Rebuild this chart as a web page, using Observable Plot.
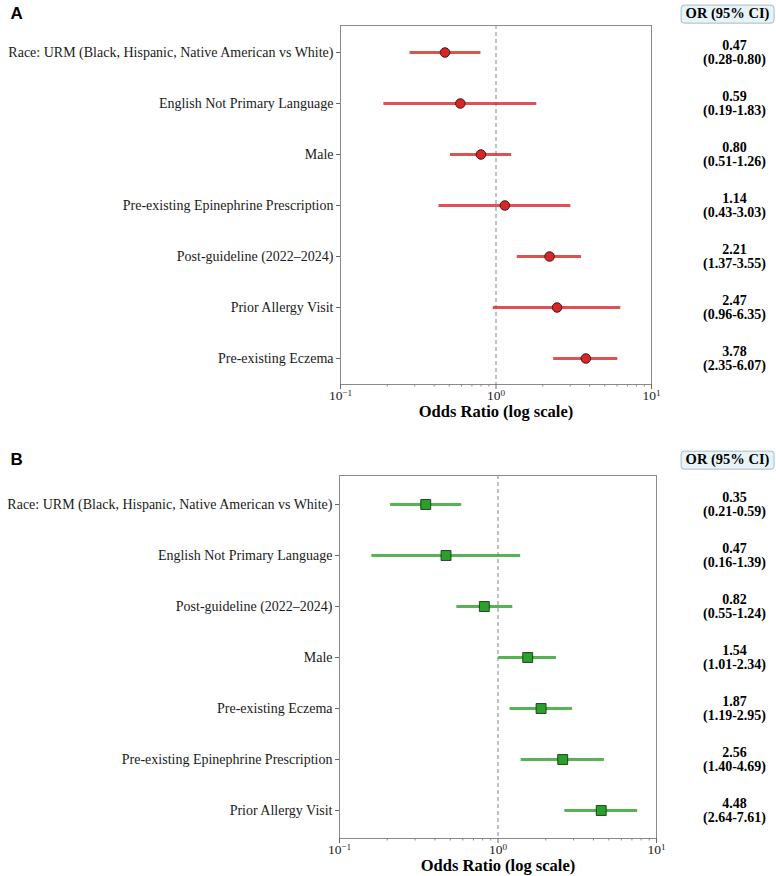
<!DOCTYPE html>
<html>
<head>
<meta charset="utf-8">
<script src="https://cdn.jsdelivr.net/npm/d3@7"></script>
<script src="https://cdn.jsdelivr.net/npm/@observablehq/plot@0.6"></script>
<style>
  html, body { margin: 0; padding: 0; background: #fff; }
  #chart svg { display: block; }
</style>
</head>
<body>
<div id="chart"></div>
<script>
// Panel A: odds ratios with 95% confidence intervals
const labelsA = [
  "Race: URM (Black, Hispanic, Native American vs White)",
  "English Not Primary Language",
  "Male",
  "Pre-existing Epinephrine Prescription",
  "Post-guideline (2022\u20132024)",
  "Prior Allergy Visit",
  "Pre-existing Eczema"
];
const orA = [0.47, 0.59, 0.80, 1.14, 2.21, 2.47, 3.78];
const loA = [0.28, 0.19, 0.51, 0.43, 1.37, 0.96, 2.35];
const hiA = [0.80, 1.83, 1.26, 3.03, 3.55, 6.35, 6.07];

// Panel B
const labelsB = [
  "Race: URM (Black, Hispanic, Native American vs White)",
  "English Not Primary Language",
  "Post-guideline (2022\u20132024)",
  "Male",
  "Pre-existing Eczema",
  "Pre-existing Epinephrine Prescription",
  "Prior Allergy Visit"
];
const orB = [0.35, 0.47, 0.82, 1.54, 1.87, 2.56, 4.48];
const loB = [0.21, 0.16, 0.55, 1.01, 1.19, 1.40, 2.64];
const hiB = [0.59, 1.39, 1.24, 2.34, 2.95, 4.69, 7.61];

const majorTicks = [0.1, 1, 10];
const minorTicks = [2, 3, 4, 5, 6, 7, 8, 9].flatMap(k => [k / 10, k]);

const serif = "'Liberation Serif', 'Times New Roman', serif";
const sans = "'Liberation Sans', Arial, sans-serif";
const fmt = d3.format(".2f");
const SVGNS = "http://www.w3.org/2000/svg";
const HEADER = "OR (95% CI)";
const VALUE_X = 734;  // centre of the estimate column
const HEADER_X = 727; // centre of the column header

function panel(o) {
  const rows = o.labels.map((label, i) => ({label, or: o.or[i], lo: o.lo[i], hi: o.hi[i]}));
  const frameRight = 776 - o.marginRight;
  const svg = Plot.plot({
    width: 776,
    height: o.height,
    marginTop: o.marginTop,
    marginBottom: o.marginBottom,
    marginLeft: o.marginLeft,
    marginRight: o.marginRight,
    style: {fontFamily: serif, background: "#fff", color: "#000", overflow: "visible"},
    x: {type: "log", domain: [0.1, 10]},
    y: {type: "point", domain: o.labels, padding: 0.5},
    marks: [
      Plot.frame({stroke: "#8a8a8a"}),
      Plot.ruleX([1], {stroke: "#9a9a9a", strokeDasharray: "4,3", strokeWidth: 1.2}),
      Plot.ruleY(rows, {y: "label", x1: "lo", x2: "hi", stroke: o.lineColor, strokeWidth: 3}),
      Plot.dot(rows, {x: "or", y: "label", symbol: o.symbol, r: o.r, fill: o.color, stroke: o.edge, strokeWidth: 0.9}),
      Plot.axisY({tickSize: 4, tickPadding: 3, fontSize: 14, label: null, stroke: "#666", fill: "#1a1a1a"}),
      Plot.axisX({ticks: majorTicks, tickSize: 5, tickPadding: 1, fontSize: 13.5, label: null, stroke: "#666", fill: "#1a1a1a",
        tickFormat: d => `10^${Math.round(Math.log10(d))}`}),
      Plot.axisX({ticks: minorTicks, tickSize: 2.5, tickFormat: () => "", label: null, stroke: "#888"}),
      Plot.text(["Odds Ratio (log scale)"], {frameAnchor: "bottom", dy: o.labelDy, lineAnchor: "middle",
        fontWeight: "bold", fontSize: 16.5}),
      Plot.text(rows, {y: "label", frameAnchor: "right", dx: VALUE_X - frameRight, textAnchor: "middle", lineAnchor: "middle",
        fontWeight: "bold", fontSize: 14, lineHeight: 1.0,
        text: d => `${fmt(d.or)}\n(${fmt(d.lo)}-${fmt(d.hi)})`}),
      Plot.text([HEADER], {frameAnchor: "top-right", dx: HEADER_X - frameRight, dy: o.headerDy, textAnchor: "middle",
        lineAnchor: "middle", fontWeight: "bold", fontSize: 14.5}),
      Plot.text([o.letter], {frameAnchor: "top-left", dx: 10 - o.marginLeft, dy: o.letterDy, textAnchor: "start",
        lineAnchor: "middle", fontFamily: sans, fontWeight: "bold", fontSize: 17})
    ]
  });
  document.getElementById("chart").appendChild(svg);

  // render exponents of the log ticks as superscripts
  svg.querySelectorAll('g[aria-label="x-axis tick label"] text').forEach(t => {
    const s = t.textContent;
    if (!s.includes("^")) return;
    const [base, exp] = s.split("^");
    t.textContent = "";
    const b = document.createElementNS(SVGNS, "tspan");
    b.textContent = base;
    const e = document.createElementNS(SVGNS, "tspan");
    e.textContent = exp.replace("-", "\u2212");
    e.setAttribute("dy", "-0.5em");
    e.setAttribute("font-size", "0.68em");
    t.appendChild(b);
    t.appendChild(e);
  });

  // rounded box behind the column header
  const head = Array.from(svg.querySelectorAll("text")).find(t => t.textContent === HEADER);
  if (head) {
    const bb = head.getBBox();
    const rect = document.createElementNS(SVGNS, "rect");
    rect.setAttribute("x", bb.x - 4.5);
    rect.setAttribute("y", bb.y);
    rect.setAttribute("width", bb.width + 9);
    rect.setAttribute("height", bb.height + 1);
    rect.setAttribute("rx", 3);
    rect.setAttribute("fill", "#e8f3f7");
    rect.setAttribute("stroke", "#a8bcc6");
    rect.setAttribute("stroke-width", 1);
    const tr = head.getAttribute("transform");
    if (tr) rect.setAttribute("transform", tr);
    head.parentNode.insertBefore(rect, head);
  }
}

panel({
  letter: "A", labels: labelsA, or: orA, lo: loA, hi: hiA,
  color: "#d62728", edge: "#3a1010", lineColor: "rgba(214,39,40,0.8)", symbol: "circle", r: 4.8,
  height: 440, marginTop: 25, marginBottom: 56, marginLeft: 340, marginRight: 125,
  headerDy: -12, letterDy: -12, labelDy: 27
});

panel({
  letter: "B", labels: labelsB, or: orB, lo: loB, hi: hiB,
  color: "#2ca02c", edge: "#163816", lineColor: "rgba(44,160,44,0.8)", symbol: "square", r: 5.6,
  height: 436, marginTop: 35, marginBottom: 38, marginLeft: 339, marginRight: 120,
  headerDy: -16, letterDy: -16, labelDy: 27
});
</script>
</body>
</html>
